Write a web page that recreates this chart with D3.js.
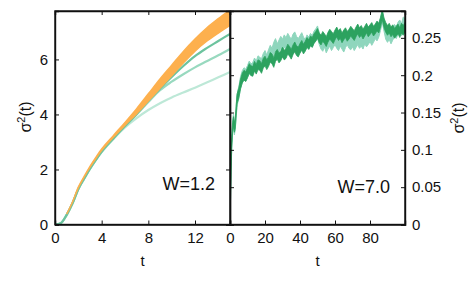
<!DOCTYPE html>
<meta charset="utf-8">
<script src="https://d3js.org/d3.v7.min.js"></script>
<style>
body { margin: 0; background: #fff; }
text { font-family: "Liberation Sans", Arial, sans-serif; fill: #111; }
.axis path, .axis line { stroke: #111; }
</style>
<body>
<div id="chart"></div>
<script>
// ---- data, W=1.2 panel ----
var tLeft = [0, 0.5, 1, 1.5, 2, 2.5, 3, 3.5, 4, 5, 6, 7, 8, 9, 10, 11, 12, 13, 14, 15];
var orangeMid  = [0, 0.06, 0.38, 0.82, 1.35, 1.74, 2.1, 2.42, 2.72, 3.2, 3.66, 4.12, 4.62, 5.12, 5.6, 6.08, 6.52, 6.9, 7.22, 7.52];
var orangeHalf = [0, 0, 0, 0, 0.01, 0.01, 0.015, 0.02, 0.025, 0.03, 0.05, 0.09, 0.13, 0.17, 0.19, 0.21, 0.22, 0.24, 0.26, 0.28];
var greenDark  = [0, 0.05, 0.35, 0.77, 1.29, 1.67, 2.03, 2.35, 2.65, 3.13, 3.58, 4.02, 4.5, 4.94, 5.36, 5.76, 6.12, 6.41, 6.67, 6.93];
var greenMid   = [0, 0.05, 0.35, 0.77, 1.29, 1.67, 2.03, 2.35, 2.64, 3.12, 3.57, 4.0, 4.45, 4.88, 5.19, 5.46, 5.71, 5.93, 6.15, 6.38];
var greenLight = [0, 0.05, 0.34, 0.76, 1.28, 1.66, 2.02, 2.34, 2.63, 3.11, 3.53, 3.87, 4.16, 4.41, 4.62, 4.8, 4.97, 5.16, 5.35, 5.54];
var leftXTicks = [0, 4, 8, 12];
var leftYTicks = [0, 2, 4, 6];

// ---- data, W=7.0 panel ----
var tRightEarly = [0, 0.3, 0.6, 1, 1.5, 2, 2.5, 3, 3.5, 4, 4.5, 5, 6, 7, 8, 9];
var darkEarly  = [0, 0.04, 0.08, 0.11, 0.13, 0.138, 0.13, 0.135, 0.152, 0.168, 0.172, 0.176, 0.188, 0.196, 0.2, 0.198];
var lightEarly = [0, 0.04, 0.08, 0.11, 0.132, 0.14, 0.128, 0.135, 0.15, 0.165, 0.172, 0.176, 0.19, 0.198, 0.202, 0.2];
// t = 10 .. 100, step 1
var darkLate = [
  0.203,0.209,0.206,0.205,0.212,0.208,0.214,0.213,0.209,0.216,
  0.219,0.214,0.218,0.224,0.222,0.217,0.225,0.228,0.223,0.226,
  0.231,0.227,0.229,0.235,0.232,0.228,0.234,0.238,0.233,0.231,
  0.236,0.240,0.235,0.239,0.244,0.241,0.246,0.244,0.249,0.252,
  0.256,0.250,0.247,0.252,0.249,0.245,0.251,0.255,0.252,0.249,
  0.254,0.258,0.253,0.256,0.250,0.254,0.257,0.252,0.255,0.259,
  0.256,0.253,0.258,0.262,0.257,0.260,0.255,0.259,0.263,0.258,
  0.261,0.264,0.259,0.262,0.266,0.263,0.271,0.281,0.270,0.264,
  0.260,0.263,0.258,0.261,0.256,0.259,0.262,0.257,0.263,0.260,
  0.264];
var lightLate = [
  0.205,0.211,0.207,0.209,0.215,0.211,0.218,0.216,0.214,0.221,
  0.225,0.219,0.226,0.232,0.228,0.236,0.241,0.234,0.239,0.244,
  0.240,0.246,0.242,0.248,0.244,0.240,0.247,0.250,0.244,0.241,
  0.245,0.249,0.243,0.240,0.246,0.243,0.248,0.245,0.251,0.254,
  0.258,0.249,0.243,0.240,0.246,0.238,0.243,0.247,0.241,0.245,
  0.249,0.244,0.241,0.247,0.243,0.239,0.245,0.249,0.244,0.242,
  0.246,0.241,0.245,0.249,0.244,0.247,0.243,0.250,0.246,0.249,
  0.253,0.248,0.252,0.257,0.254,0.259,0.268,0.279,0.267,0.256,
  0.252,0.256,0.250,0.255,0.260,0.257,0.263,0.266,0.261,0.270,
  0.268];
var darkSpread = 0.0065, lightSpread = 0.008;
var rightXTicks = [0, 20, 40, 60, 80];
var rightYTicks = [0, 0.05, 0.1, 0.15, 0.2, 0.25];

var W = 469, H = 290;
var yTop = 11, yBot = 224.5, x0 = 55, xm = 230, x1 = 405;

var svg = d3.select("#chart").append("svg")
  .attr("width", W).attr("height", H);

var defs = svg.append("defs");
defs.append("clipPath").attr("id", "clipL").append("rect")
  .attr("x", x0).attr("y", yTop).attr("width", xm - x0).attr("height", yBot - yTop);
defs.append("clipPath").attr("id", "clipR").append("rect")
  .attr("x", xm).attr("y", yTop).attr("width", x1 - xm).attr("height", yBot - yTop);

// scales
var xL = d3.scaleLinear().domain([0, 15]).range([x0, xm]);
var yL = d3.scaleLinear().domain([0, 7.76]).range([yBot, yTop]);
var xR = d3.scaleLinear().domain([0, 100]).range([xm, x1]);
var yR = d3.scaleLinear().domain([0, 0.286]).range([yBot, yTop]);

// ---- left panel marks (greens under the orange band) ----
var gL = svg.append("g").attr("clip-path", "url(#clipL)");
var greens = [
  {vals: greenLight, color: "#bde8d7"},
  {vals: greenMid, color: "#98d9bf"},
  {vals: greenDark, color: "#6cc39e"}
];
var lineL = d3.line().curve(d3.curveMonotoneX)
  .x(function(d) { return xL(d[0]); })
  .y(function(d) { return yL(d[1]); });
greens.forEach(function(g) {
  gL.append("path")
    .datum(tLeft.map(function(t, i) { return [t, g.vals[i]]; }))
    .attr("d", lineL)
    .attr("fill", "none")
    .attr("stroke", g.color)
    .attr("stroke-width", 2.2);
});

var orangeRows = tLeft.map(function(t, i) { return {t: t, lo: orangeMid[i] - orangeHalf[i], hi: orangeMid[i] + orangeHalf[i]}; });
gL.append("path")
  .datum(orangeRows.filter(function(d) { return d.t >= 1; }))
  .attr("d", d3.area().curve(d3.curveMonotoneX)
    .x(function(d) { return xL(d.t); })
    .y0(function(d) { return yL(d.lo); })
    .y1(function(d) { return yL(d.hi); }))
  .attr("fill", "#fdb04e")
  .attr("stroke", "#fdb04e").attr("stroke-width", 1.5);

// ---- right panel marks ----
var tRight = tRightEarly.concat(d3.range(10, 101));
var darkVals = darkEarly.concat(darkLate);
var lightVals = lightEarly.concat(lightLate);
var gR = svg.append("g").attr("clip-path", "url(#clipR)");
function band(vals, s) {
  return d3.area()
    .x(function(d, i) { return xR(tRight[i]); })
    .y0(function(d) { return yR(Math.max(0, d - s)); })
    .y1(function(d) { return yR(d + s); })(vals);
}
gR.append("path").attr("d", band(lightVals, lightSpread))
  .attr("fill", "#8fd6bd").attr("stroke", "#8fd6bd").attr("stroke-width", 1);
gR.append("path").attr("d", band(darkVals, darkSpread))
  .attr("fill", "#2ca25f").attr("stroke", "#2ca25f").attr("stroke-width", 0.8);

// ---- axes ----
var tk = 4;
function xFrame(xs, xt) {
  svg.append("g").attr("class", "axis").attr("transform", "translate(0," + yBot + ")")
    .call(d3.axisBottom(xs).tickValues(xt).tickSize(-tk).tickPadding(8).tickFormat(d3.format("")));
  svg.append("g").attr("class", "axis").attr("transform", "translate(0," + yTop + ")")
    .call(d3.axisTop(xs).tickValues(xt).tickSize(-tk).tickFormat(""));
}
xFrame(xL, leftXTicks);
xFrame(xR, rightXTicks);

svg.append("g").attr("class", "axis").attr("transform", "translate(" + x0 + ",0)")
  .call(d3.axisLeft(yL).tickValues(leftYTicks).tickSize(-tk).tickPadding(7));
svg.append("g").attr("class", "axis").attr("transform", "translate(" + xm + ",0)")
  .call(d3.axisRight(yL).tickValues(leftYTicks).tickSize(-tk).tickFormat(""));
svg.append("g").attr("class", "axis").attr("transform", "translate(" + xm + ",0)")
  .call(d3.axisLeft(yR).tickValues(rightYTicks).tickSize(-tk).tickFormat(""));
svg.append("g").attr("class", "axis").attr("transform", "translate(" + x1 + ",0)")
  .call(d3.axisRight(yR).tickValues(rightYTicks).tickSize(-tk).tickPadding(7)
    .tickFormat(function(d) { return d3.format("")(+d.toFixed(2)); }));

svg.selectAll(".axis .domain").attr("stroke-width", 1.4);
svg.selectAll(".axis text").attr("font-size", 15).attr("fill", "#111")
  .attr("font-family", "Liberation Sans, Arial, sans-serif");

// panel frames
svg.append("rect").attr("x", x0).attr("y", yTop).attr("width", x1 - x0).attr("height", yBot - yTop)
  .attr("fill", "none").attr("stroke", "#111").attr("stroke-width", 1.4);
svg.append("line").attr("x1", xm).attr("x2", xm).attr("y1", yTop).attr("y2", yBot)
  .attr("stroke", "#111").attr("stroke-width", 1.4);

// ---- labels ----
function sigmaLabel(x, y) {
  var t = svg.append("text").attr("transform", "translate(" + x + "," + y + ") rotate(-90)")
    .attr("text-anchor", "middle").attr("font-size", 16);
  t.append("tspan").text("σ");
  t.append("tspan").attr("font-size", 11).attr("dy", -6).text("2");
  t.append("tspan").attr("dy", 6).text("(t)");
}
sigmaLabel(31, 117);
sigmaLabel(464, 118);

svg.append("text").attr("x", xL(7.5)).attr("y", 266).attr("text-anchor", "middle")
  .attr("font-size", 15).text("t");
svg.append("text").attr("x", xR(50)).attr("y", 266).attr("text-anchor", "middle")
  .attr("font-size", 15).text("t");

svg.append("text").attr("x", 215).attr("y", 190).attr("text-anchor", "end")
  .attr("font-size", 18).text("W=1.2");
svg.append("text").attr("x", 390).attr("y", 193).attr("text-anchor", "end")
  .attr("font-size", 18).text("W=7.0");
</script>
</body>
